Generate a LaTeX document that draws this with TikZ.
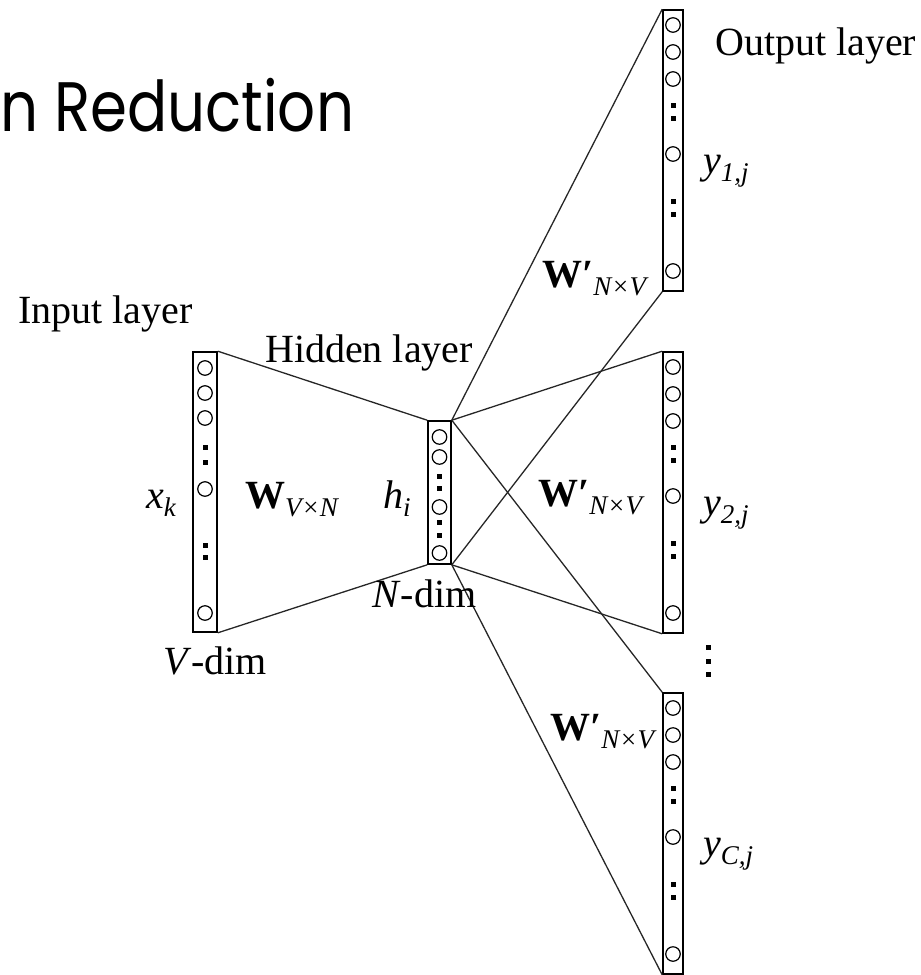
\documentclass[tikz,border=0pt]{standalone}
\usepackage{fontspec}
\setmainfont{Liberation Serif}
\newfontfamily\titlefont{Poppins}
\newcommand\lsub[1]{\raisebox{-0.22em}{\fontsize{27}{27}\selectfont\itshape #1}}
\tikzset{
  layerbox/.style={draw, line width=1.6pt, inner sep=0pt, fill=white},
  unit/.style={circle, draw, line width=1.2pt, minimum size=14.5pt, inner sep=0pt},
  dotsq/.style={fill=black, minimum size=5pt, inner sep=0pt},
  link/.style={line width=1.3pt, draw=black!85},
  lbl/.style={font=\fontsize{40}{42}\selectfont, anchor=base west, inner sep=0pt},
}
\begin{document}
\begin{tikzpicture}[x=1pt,y=-1pt]
\useasboundingbox (0,0) rectangle (921,975);
% title
\node[anchor=base west, inner sep=0pt, font=\titlefont\fontsize{70}{70}\selectfont] (title) at (0,131) {\scalebox{0.85}[1]{n Reduction}};

% boxes
\node[layerbox, minimum width=24pt, minimum height=280pt] (in) at (205,492) {};
\node[layerbox, minimum width=23pt, minimum height=143pt] (hid) at (439.5,492.5) {};
\node[layerbox, minimum width=20pt, minimum height=281pt] (o1) at (673,150.5) {};
\node[layerbox, minimum width=20pt, minimum height=281pt] (o2) at (673,492.5) {};
\node[layerbox, minimum width=20pt, minimum height=281pt] (o3) at (673,833.5) {};

% connectors
\draw[link] (in.north east) -- (hid.north west);
\draw[link] (in.south east) -- (hid.south west);
\draw[link] (hid.north east) -- (o1.north west);
\draw[link] (hid.south east) -- (o1.south west);
\draw[link] (hid.north east) -- (o2.north west);
\draw[link] (hid.south east) -- (o2.south west);
\draw[link] (hid.north east) -- (o3.north west);
\draw[link] (hid.south east) -- (o3.south west);

% units: input
\foreach \y [count=\i] in {368,393,418,489,613} \node[unit] (in-u\i) at (205,\y) {};
\foreach \y [count=\i] in {447,462,545,557} \node[dotsq] (in-d\i) at (205,\y) {};
% hidden
\foreach \y [count=\i] in {437,457,507,553} \node[unit] (hid-u\i) at (439.5,\y) {};
\foreach \y [count=\i] in {476,488,522,535} \node[dotsq] (hid-d\i) at (439.5,\y) {};
% outputs
\foreach \o/\t in {o1/10,o2/352,o3/693}{
  \foreach \r [count=\i] in {15,42,69,144,261} \node[unit] (\o-u\i) at (673,\t+\r) {};
  \foreach \r [count=\i] in {95,108,191,204} \node[dotsq] (\o-d\i) at (673,\t+\r) {};
}
% vertical dots between outputs
\foreach \y [count=\i] in {647,661,674} \node[dotsq] (vd\i) at (708,\y) {};

% labels
\node[lbl] (lout) at (715,55) {Output layer};
\node[lbl] (lin) at (18,323) {Input layer};
\node[lbl] (lhid) at (265,362) {Hidden layer};
\node[lbl] (lndim) at (372,607) {\textit{N}-dim};
\node[lbl] (lvdim) at (163,674) {\textit{V}-dim};
\node[lbl] (lxk) at (146,508) {\textit{x}\lsub{k}};
\node[lbl] (lhi) at (383,508) {\textit{h}\lsub{i}};
\node[lbl] (lw) at (245,508) {\textbf{W}\lsub{V×N}};
\node[lbl] (lw1) at (542,287) {\textbf{W′}\lsub{N×V}};
\node[lbl] (lw2) at (538,506) {\textbf{W′}\lsub{N×V}};
\node[lbl] (lw3) at (550,740) {\textbf{W′}\lsub{N×V}};
\node[lbl] (ly1) at (703,173) {\textit{y}\lsub{1,j}};
\node[lbl] (ly2) at (703,515) {\textit{y}\lsub{2,j}};
\node[lbl] (ly3) at (703,856) {\textit{y}\lsub{C,j}};
\end{tikzpicture}
\end{document}
